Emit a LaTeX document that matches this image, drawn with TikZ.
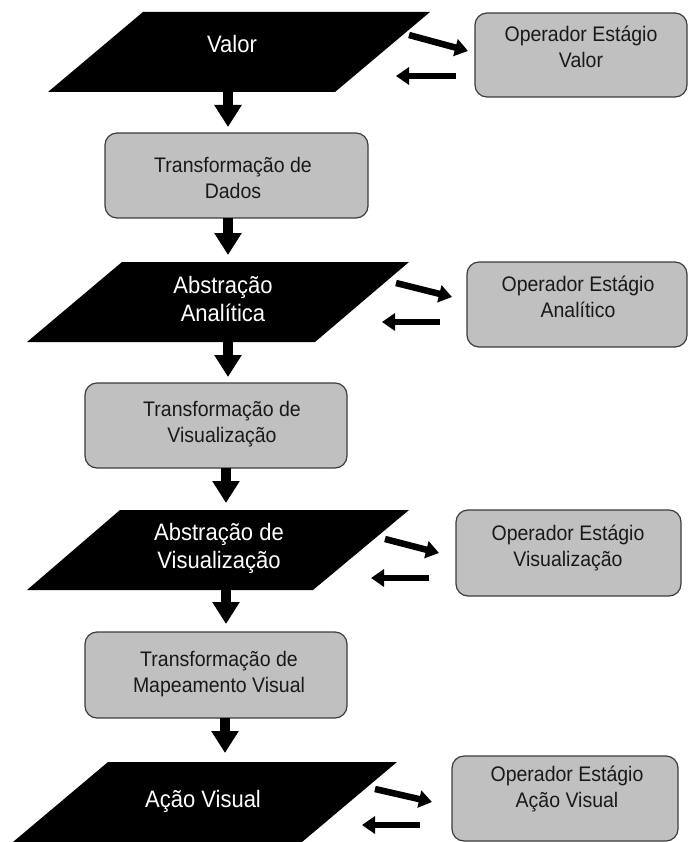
\documentclass[tikz,border=0pt]{standalone}
\usepackage{graphicx}
\usepackage{fontspec}
\setmainfont{Liberation Sans}
\usetikzlibrary{arrows.meta}
\definecolor{boxgray}{RGB}{192,192,192}
\definecolor{boxline}{RGB}{60,60,60}
\definecolor{txt}{RGB}{25,25,25}
\newcommand{\mystack}[1]{\scalebox{1}[1.08]{\begin{tabular}{@{}c@{}}#1\end{tabular}}}
\begin{document}
\begin{tikzpicture}[x=1pt,y=-1pt,
  opbox/.style={draw=boxline, line width=1.2pt, fill=boxgray, rounded corners=12pt, inner sep=0pt},
  boxtext/.style={text=txt, font=\fontsize{19.5}{24}\selectfont, inner sep=0pt},
  partext/.style={text=white, font=\fontsize{22}{26}\selectfont, inner sep=0pt},
  flow/.style={line width=10pt, -{Triangle[width=26pt,length=22pt]}},
  side/.style={line width=6.5pt, -{Triangle[width=17pt,length=13pt]}}
]
\useasboundingbox (0,0) rectangle (688,842);

% parallelograms (data stages)
\fill[black] (143,12) -- (430,12) -- (335,92) -- (48,92) -- cycle;
\fill[black] (122,262) -- (409,262) -- (315,342) -- (27,342) -- cycle;
\fill[black] (120,510) -- (409,510) -- (313,590) -- (27,590) -- cycle;
\fill[black] (108,762) -- (397,762) -- (302,842) -- (13,842) -- cycle;
\node[partext] (valor) at (232,47) {\mystack{Valor}};
\node[partext] (analitica) at (223,302) {\mystack{Abstração\\Analítica}};
\node[partext] (absvis) at (219,548.5) {\mystack{Abstração de\\Visualização}};
\node[partext] (acao) at (203,802) {\mystack{Ação Visual}};

% transformation boxes
\node[opbox, minimum width=263pt, minimum height=85pt] (dados) at (236.5,175.5) {};
\node[opbox, minimum width=262pt, minimum height=85pt] (transvis) at (216,425.5) {};
\node[opbox, minimum width=262pt, minimum height=86pt] (mapvis) at (216,675) {};
\node[boxtext] (dadost) at (233,180) {\mystack{Transformação de\\Dados}};
\node[boxtext] (transvist) at (222,424) {\mystack{Transformação de\\Visualização}};
\node[boxtext] (mapvist) at (219,674) {\mystack{Transformação de\\Mapeamento Visual}};

% operator boxes
\node[opbox, minimum width=212pt, minimum height=84pt] (opvalor) at (581,55) {};
\node[opbox, minimum width=220pt, minimum height=85pt] (opanal) at (577,304.5) {};
\node[opbox, minimum width=225pt, minimum height=86pt] (opvis) at (568.5,553) {};
\node[opbox, minimum width=226pt, minimum height=85pt] (opacao) at (565,798.5) {};
\node[boxtext] (opvalort) at (581,49) {\mystack{Operador Estágio\\Valor}};
\node[boxtext] (opanalt) at (578,299.5) {\mystack{Operador Estágio\\Analítico}};
\node[boxtext] (opvist) at (568,548.5) {\mystack{Operador Estágio\\Visualização}};
\node[boxtext] (opacaot) at (567,789.5) {\mystack{Operador Estágio\\Ação Visual}};

% vertical flow arrows
\coordinate (f1s) at (228,92);  \coordinate (f1e) at (228,127);
\coordinate (f2s) at (228,218); \coordinate (f2e) at (228,255);
\coordinate (f3s) at (228,342); \coordinate (f3e) at (228,377);
\coordinate (f4s) at (226,468); \coordinate (f4e) at (226,503);
\coordinate (f5s) at (226,590); \coordinate (f5e) at (226,624);
\coordinate (f6s) at (225,718); \coordinate (f6e) at (225,753);
\draw[flow] (f1s) -- (f1e);
\draw[flow] (f2s) -- (f2e);
\draw[flow] (f3s) -- (f3e);
\draw[flow] (f4s) -- (f4e);
\draw[flow] (f5s) -- (f5e);
\draw[flow] (f6s) -- (f6e);

% side arrows
\coordinate (r1s) at (409,35);  \coordinate (r1e) at (468,51);
\coordinate (r2s) at (396,283); \coordinate (r2e) at (452,297);
\coordinate (r3s) at (385,539); \coordinate (r3e) at (439,553);
\coordinate (r4s) at (375,789); \coordinate (r4e) at (432,802);
\coordinate (l1s) at (456,76);  \coordinate (l1e) at (396,76);
\coordinate (l2s) at (440,322); \coordinate (l2e) at (382,322);
\coordinate (l3s) at (429,578); \coordinate (l3e) at (371,578);
\coordinate (l4s) at (420,825); \coordinate (l4e) at (362,825);
\draw[side] (r1s) -- (r1e);
\draw[side] (r2s) -- (r2e);
\draw[side] (r3s) -- (r3e);
\draw[side] (r4s) -- (r4e);
\draw[side] (l1s) -- (l1e);
\draw[side] (l2s) -- (l2e);
\draw[side] (l3s) -- (l3e);
\draw[side] (l4s) -- (l4e);
\end{tikzpicture}
\end{document}
